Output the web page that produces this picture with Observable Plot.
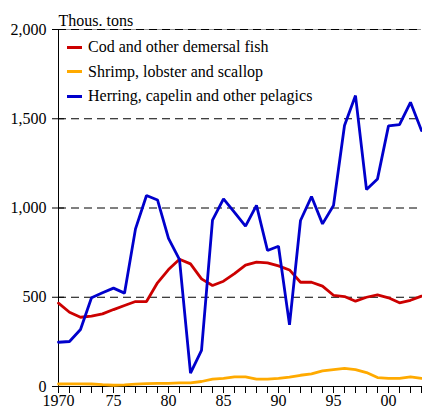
<!DOCTYPE html>
<html>
<head>
<meta charset="utf-8">
<script src="https://cdn.jsdelivr.net/npm/d3@7"></script>
<script src="https://cdn.jsdelivr.net/npm/@observablehq/plot@0.6"></script>
<style>
  html, body { margin: 0; padding: 0; background: white; }
  #wrap { position: relative; width: 422px; height: 409px; overflow: hidden; }
  #wrap svg, #wrap svg text { font-family: "Liberation Serif", "Times New Roman", Times, serif !important; }
  #legend { position: absolute; left: 67px; top: 35px; font-family: "Liberation Serif", "Times New Roman", Times, serif; font-size: 16px; color: #000; }
  .row { display: flex; align-items: center; height: 24.5px; white-space: nowrap; }
  .sw { width: 15px; height: 3px; margin-right: 6px; }
</style>
</head>
<body>
<div id="wrap"><div id="legend"></div></div>
<script>
const years = [1970,1971,1972,1973,1974,1975,1976,1977,1978,1979,1980,1981,1982,1983,1984,1985,1986,1987,1988,1989,1990,1991,1992,1993,1994,1995,1996,1997,1998,1999,2000,2001,2002,2003];
const demersal = [467,416,388,394,407,431,454,476,476,581,655,713,687,603,566,590,632,680,697,693,676,653,584,584,562,511,504,478,500,513,497,469,483,506];
const shellfish = [14,15,15,14,10,7,9,13,16,17,18,20,20,28,41,45,54,54,41,41,45,52,63,71,88,95,101,95,78,50,46,46,54,46];
const pelagic = [248,252,319,497,525,551,523,883,1070,1045,830,711,75,202,932,1051,976,898,1015,762,786,345,930,1064,911,1014,1462,1630,1103,1163,1460,1467,1592,1434];
const seriesNames = ["Cod and other demersal fish", "Shrimp, lobster and scallop", "Herring, capelin and other pelagics"];
const seriesColors = ["#cc0000", "#ffaa00", "#0000cc"];
const yTicks = [0, 500, 1000, 1500, 2000];
const gridValues = [500, 1000, 1500, 2000];
const xLabelYears = [1970, 1975, 1980, 1985, 1990, 1995, 2000];
const xLabels = ["1970", "75", "80", "85", "90", "95", "00"];
const unitLabel = "Thous. tons";

const allSeries = [demersal, shellfish, pelagic];
const rows = [];
allSeries.forEach((vals, s) => vals.forEach((v, i) => rows.push({year: years[i], value: v, series: seriesNames[s]})));

const serif = "'Liberation Serif', 'Times New Roman', Times, serif";
const chart = Plot.plot({
  width: 422,
  height: 409,
  marginLeft: 58,
  marginRight: 1,
  marginTop: 29,
  marginBottom: 23,
  style: {fontFamily: serif, fontSize: "16px", color: "black", background: "white", overflow: "visible"},
  x: {domain: [1970, 2003]},
  y: {domain: [0, 2000]},
  color: {domain: seriesNames, range: seriesColors},
  marks: [
    Plot.ruleY([2000], {stroke: "#999", strokeWidth: 1}),
    Plot.ruleY(gridValues, {stroke: "black", strokeDasharray: "8,5", strokeWidth: 1}),
    Plot.axisY({ticks: yTicks, tickSize: 6, tickPadding: 6, tickFormat: d3.format(","), label: null, fontSize: 16}),
    Plot.axisY({ticks: yTicks, tickSize: -6, tickFormat: () => "", label: null}),
    Plot.axisX({ticks: years, tickSize: 7, tickPadding: 1, label: null, fontSize: 16,
      tickFormat: d => { const k = xLabelYears.indexOf(d); return k >= 0 ? xLabels[k] : ""; }}),
    Plot.ruleX([1970], {stroke: "black"}),
    Plot.ruleY([0], {stroke: "black"}),
    Plot.line(rows, {x: "year", y: "value", z: "series", stroke: "series", strokeWidth: 2.8, strokeLinejoin: "miter"}),
    Plot.text([unitLabel], {frameAnchor: "top-left", textAnchor: "start", lineAnchor: "bottom", dy: -4, fontSize: 16})
  ]
});
const wrap = document.getElementById("wrap");
wrap.insertBefore(chart, wrap.firstChild);

const legend = document.getElementById("legend");
seriesNames.forEach((name, i) => {
  const row = document.createElement("div");
  row.className = "row";
  const sw = document.createElement("div");
  sw.className = "sw";
  sw.style.background = seriesColors[i];
  const t = document.createElement("span");
  t.textContent = name;
  row.appendChild(sw);
  row.appendChild(t);
  legend.appendChild(row);
});
</script>
</body>
</html>
